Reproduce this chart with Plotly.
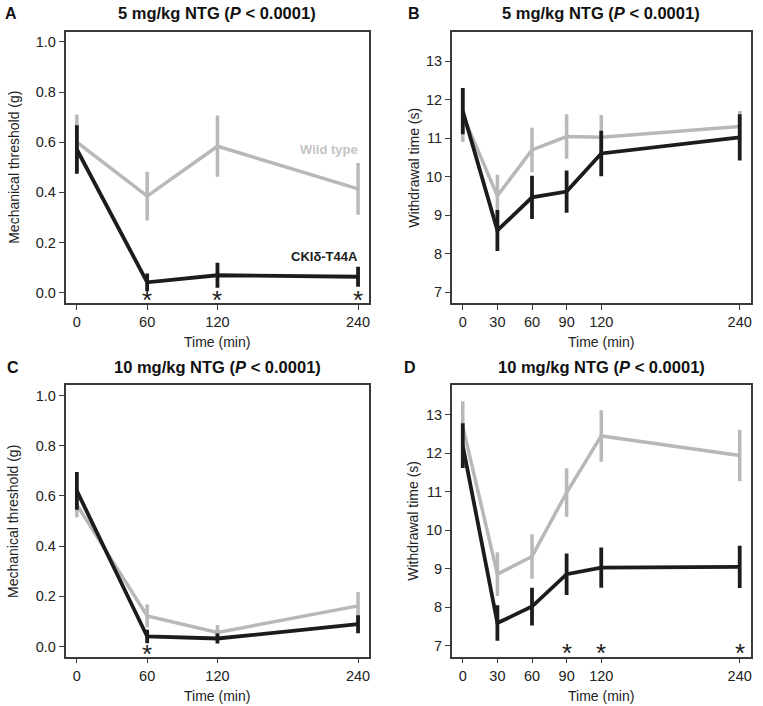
import plotly.graph_objects as go

# time points (min)
t_mech = [0, 60, 120, 240]
t_heat = [0, 30, 60, 90, 120, 240]

# A: mechanical threshold, 5 mg/kg NTG
a_wt = [0.600, 0.385, 0.584, 0.414]
a_wt_err = [0.110, 0.097, 0.122, 0.103]
a_mut = [0.571, 0.042, 0.070, 0.064]
a_mut_err = [0.097, 0.035, 0.050, 0.040]
a_stars = [60, 120, 240]

# B: withdrawal time, 5 mg/kg NTG
b_wt = [11.60, 9.50, 10.69, 11.04, 11.02, 11.30]
b_wt_err = [0.70, 0.55, 0.58, 0.58, 0.58, 0.40]
b_mut = [11.70, 8.60, 9.46, 9.61, 10.60, 11.02]
b_mut_err = [0.60, 0.53, 0.56, 0.55, 0.59, 0.60]
b_stars = []

# C: mechanical threshold, 10 mg/kg NTG
c_wt = [0.565, 0.122, 0.056, 0.162]
c_wt_err = [0.050, 0.045, 0.030, 0.055]
c_mut = [0.620, 0.040, 0.032, 0.089]
c_mut_err = [0.075, 0.027, 0.020, 0.036]
c_stars = [60]

# D: withdrawal time, 10 mg/kg NTG
d_wt = [12.70, 8.86, 9.32, 10.98, 12.45, 11.94]
d_wt_err = [0.65, 0.57, 0.58, 0.63, 0.67, 0.67]
d_mut = [12.20, 7.59, 8.02, 8.86, 9.03, 9.05]
d_mut_err = [0.58, 0.46, 0.49, 0.54, 0.52, 0.55]
d_stars = [90, 120, 240]

GRAY = "#b8b8b8"
BLACK = "#1c1c1c"
FONT = "Liberation Sans, Arial, sans-serif"

panels = [
    # x, wt, wt_err, mut, mut_err, stars, star level
    (t_mech, a_wt, a_wt_err, a_mut, a_mut_err, a_stars, 0.0),
    (t_heat, b_wt, b_wt_err, b_mut, b_mut_err, b_stars, 7.0),
    (t_mech, c_wt, c_wt_err, c_mut, c_mut_err, c_stars, 0.0),
    (t_heat, d_wt, d_wt_err, d_mut, d_mut_err, d_stars, 7.0),
]

fig = go.Figure()
annotations = []

for i, (tx, wt, wte, mu, mue, stars, y0) in enumerate(panels):
    n = "" if i == 0 else str(i + 1)
    xa, ya = "x" + n, "y" + n
    fig.add_trace(go.Scatter(
        x=tx, y=wt, mode="lines", xaxis=xa, yaxis=ya,
        line=dict(color=GRAY, width=3.5),
        error_y=dict(type="data", array=wte, color=GRAY, thickness=3.5, width=0),
        showlegend=False))
    fig.add_trace(go.Scatter(
        x=tx, y=mu, mode="lines", xaxis=xa, yaxis=ya,
        line=dict(color=BLACK, width=3.8),
        error_y=dict(type="data", array=mue, color=BLACK, thickness=3.8, width=0),
        showlegend=False))
    for s in stars:
        annotations.append(dict(
            x=s, y=y0, xref=xa, yref=ya, text="*", showarrow=False,
            font=dict(family=FONT, size=26, color=BLACK),
            xanchor="center", yanchor="middle", yshift=-7))

# column / row domains (paper fractions)
xl, xr = [0.086, 0.484], [0.592, 0.984]
yt, yb = [0.571, 0.955], [0.070, 0.454]
doms = [(xl, yt), (xr, yt), (xl, yb), (xr, yb)]

mech_ticks = [0, 0.2, 0.4, 0.6, 0.8, 1.0]
heat_ticks = [7, 8, 9, 10, 11, 12, 13]

layout = {}
for i, (dx, dy) in enumerate(doms):
    n = "" if i == 0 else str(i + 1)
    mech = i in (0, 2)
    layout["xaxis" + n] = dict(
        domain=dx, anchor="y" + n, range=[-9.6, 249.6],
        tickvals=t_mech if mech else t_heat)
    layout["yaxis" + n] = dict(
        domain=dy, anchor="x" + n,
        range=[-0.04, 1.04] if mech else [6.72, 13.76],
        tickvals=mech_ticks if mech else heat_ticks,
        tickformat=".1f" if mech else "d")

titles = ["5 mg/kg NTG (<i>P</i> < 0.0001)", "5 mg/kg NTG (<i>P</i> < 0.0001)",
          "10 mg/kg NTG (<i>P</i> < 0.0001)", "10 mg/kg NTG (<i>P</i> < 0.0001)"]
letters = ["A", "B", "C", "D"]
ylabels = ["Mechanical threshold (g)", "Withdrawal time (s)",
           "Mechanical threshold (g)", "Withdrawal time (s)"]
letter_x = [0.004, 0.532, 0.006, 0.527]
ylab_x = [0.019, 0.543, 0.017, 0.541]

for i, (dx, dy) in enumerate(doms):
    cx = (dx[0] + dx[1]) / 2
    annotations.append(dict(
        x=cx, y=dy[1] + 0.026, xref="paper", yref="paper", text="<b>" + titles[i] + "</b>",
        showarrow=False, font=dict(family=FONT, size=16.5, color="#111"),
        xanchor="center", yanchor="middle"))
    annotations.append(dict(
        x=letter_x[i], y=dy[1] + 0.026, xref="paper", yref="paper", text="<b>" + letters[i] + "</b>",
        showarrow=False, font=dict(family=FONT, size=16, color="#111"),
        xanchor="left", yanchor="middle"))
    annotations.append(dict(
        x=cx, y=dy[0] - 0.056, xref="paper", yref="paper", text="Time (min)",
        showarrow=False, font=dict(family=FONT, size=14, color="#222"),
        xanchor="center", yanchor="middle"))
    annotations.append(dict(
        x=ylab_x[i], y=(dy[0] + dy[1]) / 2, xref="paper", yref="paper", text=ylabels[i],
        showarrow=False, textangle=-90, font=dict(family=FONT, size=14, color="#222"),
        xanchor="center", yanchor="middle"))

# series labels in panel A
annotations.append(dict(
    x=242, y=0.57, xref="x", yref="y", text="<b>Wild type</b>", showarrow=False,
    font=dict(family=FONT, size=13, color="#c4c4c4"), xanchor="right", yanchor="middle"))
annotations.append(dict(
    x=242, y=0.146, xref="x", yref="y", text="<b>CKIδ-T44A</b>", showarrow=False,
    font=dict(family=FONT, size=13, color="#1c1c1c"), xanchor="right", yanchor="middle"))

fig.update_layout(
    width=763, height=706,
    margin=dict(l=0, r=0, t=0, b=0),
    paper_bgcolor="white", plot_bgcolor="white",
    annotations=annotations,
    **layout)

# boxed axes, outward ticks
fig.update_xaxes(showline=True, mirror=True, linecolor="#3a3a3a", linewidth=1.5,
                 ticks="outside", ticklen=5, tickwidth=1.2, tickcolor="#3a3a3a",
                 showgrid=False, zeroline=False,
                 tickfont=dict(family=FONT, size=14.5, color="#222"))
fig.update_yaxes(showline=True, mirror=True, linecolor="#3a3a3a", linewidth=1.5,
                 ticks="outside", ticklen=5, tickwidth=1.2, tickcolor="#3a3a3a",
                 showgrid=False, zeroline=False,
                 tickfont=dict(family=FONT, size=14.5, color="#222"))

# drop the default body margin so the figure sits at the window's corner
fig.write_html("out.html", config={"displayModeBar": False},
               post_script="document.body.style.margin='0px';")
